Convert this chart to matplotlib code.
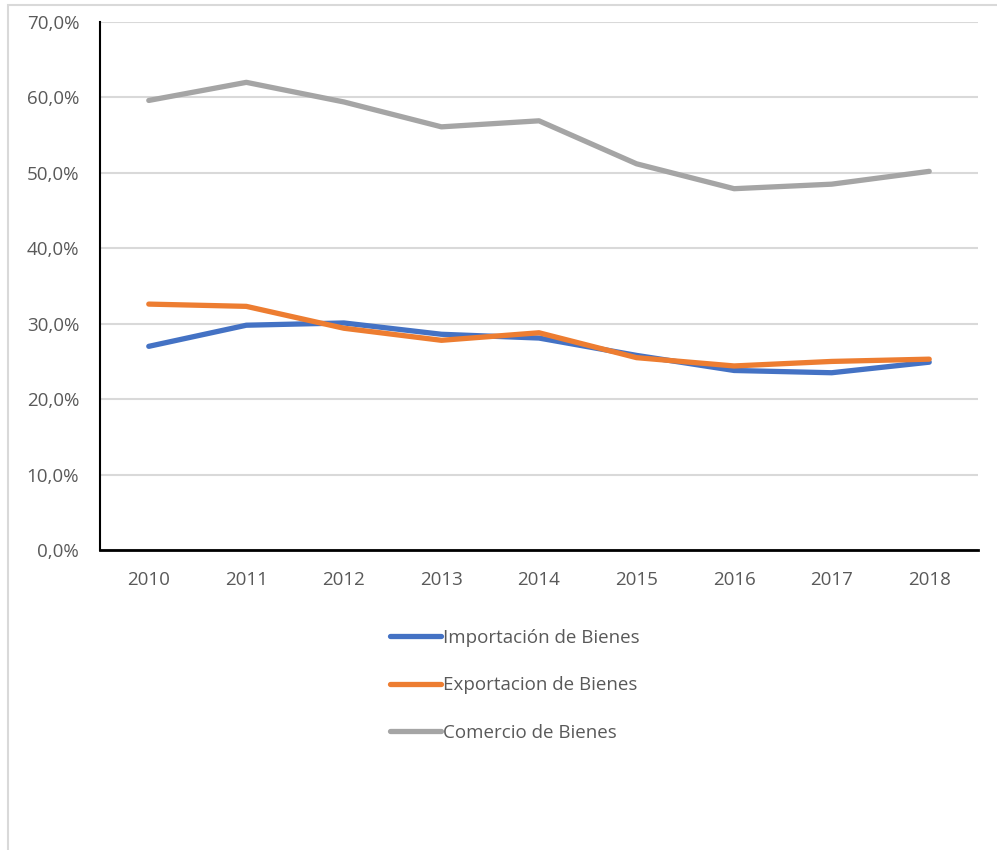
import numpy as np
import matplotlib.pyplot as plt
from matplotlib.patches import Rectangle
from matplotlib.ticker import FuncFormatter

# --- datos (% del PIB) ---
years = ['2010', '2011', '2012', '2013', '2014', '2015', '2016', '2017', '2018']
importacion = [27.0, 29.8, 30.1, 28.6, 28.1, 25.8, 23.8, 23.5, 24.9]
exportacion = [32.6, 32.3, 29.4, 27.8, 28.8, 25.5, 24.4, 25.0, 25.3]
comercio = [59.6, 62.0, 59.4, 56.1, 56.9, 51.2, 47.9, 48.5, 50.2]

labels = ['Importación de Bienes', 'Exportacion de Bienes', 'Comercio de Bienes']
colores = ['#4472C4', '#ED7D31', '#A5A5A5']

plt.rcParams['font.family'] = ['Open Sans', 'DejaVu Sans']

fig = plt.figure(figsize=(9.97, 8.5), dpi=100)
# marco gris del gráfico
fig.patches.append(Rectangle((8 / 997, -0.01), 1.0, 1.0 - 5 / 850 + 0.01,
                             transform=fig.transFigure, fill=False,
                             edgecolor='#D9D9D9', linewidth=1.5))

ax = fig.add_axes([100 / 997, 1 - 550 / 850, 878 / 997, 528 / 850])
x = np.arange(len(years))
for serie, lab, col in zip([importacion, exportacion, comercio], labels, colores):
    ax.plot(x, serie, color=col, linewidth=3.8, label=lab,
            solid_capstyle='round', solid_joinstyle='round')

ax.set_xlim(-0.5, len(years) - 0.5)
ax.set_ylim(0, 70)
ax.set_yticks(np.arange(0, 71, 10))
ax.yaxis.set_major_formatter(FuncFormatter(lambda v, p: f'{v:.1f}%'.replace('.', ',')))
ax.set_xticks(x)
ax.set_xticklabels(years)
ax.grid(axis='y', color='#D9D9D9', linewidth=1.5)
ax.set_axisbelow(True)

for s in ['top', 'right']:
    ax.spines[s].set_visible(False)
ax.spines['left'].set_color('black')
ax.spines['left'].set_linewidth(1.5)
ax.spines['bottom'].set_color('black')
ax.spines['bottom'].set_linewidth(2)
ax.tick_params(axis='both', length=0, labelsize=13.5, colors='#595959')
ax.tick_params(axis='y', pad=15)
ax.tick_params(axis='x', pad=15)

fig.legend(loc='upper left', bbox_to_anchor=(390 / 997, 1 - 629 / 850),
           frameon=False, fontsize=13.5, labelcolor='#595959',
           borderpad=0, borderaxespad=0,
           handlelength=2.7, handletextpad=0.15, labelspacing=1.57)

fig.savefig('out.png', dpi=100, facecolor='white')
